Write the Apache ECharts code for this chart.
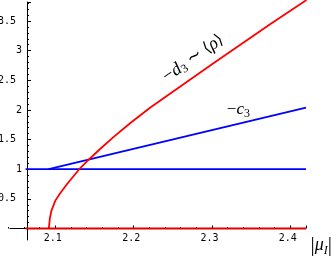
<!DOCTYPE html>
<html><head><meta charset="utf-8">
<script src="https://cdn.jsdelivr.net/npm/echarts@6/dist/echarts.min.js"></script>
<style>html,body{margin:0;padding:0;background:#fff}#c{width:333px;height:257px}</style>
</head><body><div id="c"></div>
<script>
// ---- data ----
const xTickLabels = ['2.1', '2.2', '2.3', '2.4'];
const yTickLabels = ['0.5', '1', '1.5', '2', '2.5', '3', '3.5'];

// -d3 ~ <rho>  (red curve)
const redCurveX = [2.0917, 2.0930, 2.0950, 2.1000, 2.1064, 2.1150, 2.1255, 2.1306, 2.1425, 2.1575, 2.1745, 2.1958, 2.2213, 2.3000, 2.3746, 2.4206];
const redCurveY = [0.00,   0.17,   0.30,   0.47,   0.60,   0.75,   0.92,   1.00,   1.16,   1.345,  1.545,  1.78,   2.04,   2.77,   3.45,   3.853];
// red baseline at zero
const redBaseX = [2.062, 2.42];
const redBaseY = [0, 0];
// blue constant line at 1
const blueFlatX = [2.062, 2.42];
const blueFlatY = [1, 1];
// -c3 (blue sloped line)
const blueSlopeX = [2.0915, 2.42];
const blueSlopeY = [1.0, 2.04];

const zip = (xs, ys) => xs.map((x, i) => [x, ys[i]]);

const chart = echarts.init(document.getElementById('c'), null, {renderer: 'canvas'});
const mono = 'DejaVu Sans Mono';
const serif = 'Liberation Serif';

const lineSeries = (name, xs, ys, color, w, z) => ({
  name, type: 'line', xAxisIndex: 0, yAxisIndex: 0,
  data: zip(xs, ys), showSymbol: false, symbol: 'none', clip: false,
  lineStyle: {color, width: w, join: 'round'}, z: z, animation: false
});

chart.setOption({
  animation: false,
  backgroundColor: '#fff',
  grid: [
    {left: -23, width: 329, top: 2, bottom: 28.5, containLabel: false, outerBoundsMode: 'none'},
    {left: 10, right: 28, top: 2, bottom: 17, containLabel: false, outerBoundsMode: 'none'}
  ],
  xAxis: [
    {
      type: 'value', gridIndex: 0, min: 2.0, max: 2.42, interval: 0.1,
      axisLine: {show: false},
      axisTick: {show: true, inside: true, length: 3, lineStyle: {color: '#000', width: 1}},
      minorTick: {show: true, splitNumber: 5, length: 1.5, lineStyle: {color: '#000'}},
      splitLine: {show: false},
      axisLabel: {
        margin: 5, color: '#000', fontFamily: mono, fontSize: 10, padding: [0, 5, 0, 0],
        formatter: v => { const s = v.toFixed(1); return xTickLabels.includes(s) ? s : ''; }
      }
    },
    {
      type: 'value', gridIndex: 1, min: 0, max: 1,
      axisLine: {show: true, onZero: true, lineStyle: {color: '#000', width: 1}},
      axisTick: {show: false}, axisLabel: {show: false}, splitLine: {show: false}
    }
  ],
  yAxis: [
    {
      type: 'value', gridIndex: 0, min: 0, max: 3.82, interval: 0.5, offset: -50,
      axisLine: {show: false},
      axisTick: {show: true, inside: true, length: 4, lineStyle: {color: '#000', width: 1}},
      minorTick: {show: true, splitNumber: 5, length: 2, lineStyle: {color: '#000'}},
      splitLine: {show: false},
      axisLabel: {
        margin: 5, color: '#000', fontFamily: mono, fontSize: 10,
        formatter: v => {
          const s = (Math.round(v * 10) / 10).toString();
          if (!yTickLabels.includes(s)) return '';
          return s.indexOf('.') >= 0 ? s + '\u00a0' : s;
        }
      }
    },
    {
      type: 'value', gridIndex: 1, min: -0.194, max: 3.82, offset: -17,
      axisLine: {show: true, lineStyle: {color: '#000', width: 1}},
      axisTick: {show: false}, axisLabel: {show: false}, splitLine: {show: false}
    }
  ],
  series: [
    lineSeries('blueFlat', blueFlatX, blueFlatY, '#0000ff', 1.8, 3),
    lineSeries('blueSlope', blueSlopeX, blueSlopeY, '#0000ff', 1.8, 3),
    lineSeries('redCurve', redCurveX, redCurveY, '#ff0000', 1.8, 4),
    lineSeries('redBase', redBaseX, redBaseY, '#e00000', 2.2, 4)
  ]
});

// annotation anchors in data coordinates
const d3Anchor = [2.2760, 2.87];
const c3Anchor = [2.3337, 2.0];
const p1 = chart.convertToPixel({gridIndex: 0}, d3Anchor);
const p2 = chart.convertToPixel({gridIndex: 0}, c3Anchor);
const richStyles = {
  a: {fontFamily: serif, fontSize: 18, lineHeight: 20, fill: '#000'},
  i: {fontFamily: serif, fontSize: 18, fontStyle: 'italic', lineHeight: 20, fill: '#000'},
  s: {fontFamily: serif, fontSize: 12, lineHeight: 14, verticalAlign: 'bottom', fill: '#000'},
  si: {fontFamily: serif, fontSize: 12, fontStyle: 'italic', lineHeight: 13, verticalAlign: 'bottom', fill: '#000'},
  b: {fontFamily: 'DejaVu Serif', fontSize: 16, lineHeight: 20, fill: '#000'},
  bar: {fontFamily: serif, fontSize: 21, lineHeight: 24, fill: '#000'},
  mu: {fontFamily: serif, fontSize: 18, fontStyle: 'italic', lineHeight: 24, fill: '#000'}
};
const c3Styles = {
  a: {fontFamily: serif, fontSize: 17, lineHeight: 19, fill: '#000'},
  i: {fontFamily: serif, fontSize: 17, fontStyle: 'italic', lineHeight: 19, fill: '#000'},
  s: {fontFamily: serif, fontSize: 12, lineHeight: 14, verticalAlign: 'bottom', fill: '#000'}
};
chart.setOption({
  graphic: [
    {
      type: 'text', x: p1[0], y: p1[1], rotation: 0.61, silent: true,
      style: {
        text: '{a|\u2212}{i|d}{s|3}{a| \u223C }{b|\u27E8}{i|\u03C1}{b|\u27E9}',
        rich: richStyles, align: 'center', verticalAlign: 'middle'
      }
    },
    {
      type: 'text', x: p2[0], y: p2[1], silent: true,
      style: {
        text: '{a|\u2212}{i|c}{s|3}',
        rich: c3Styles, align: 'center', verticalAlign: 'middle'
      }
    },
    {
      type: 'text', right: 1, bottom: 0, silent: true,
      style: {
        text: '{bar||}{mu|\u03BC}{si|I}{bar||}',
        rich: richStyles
      }
    }
  ]
});
</script></body></html>
